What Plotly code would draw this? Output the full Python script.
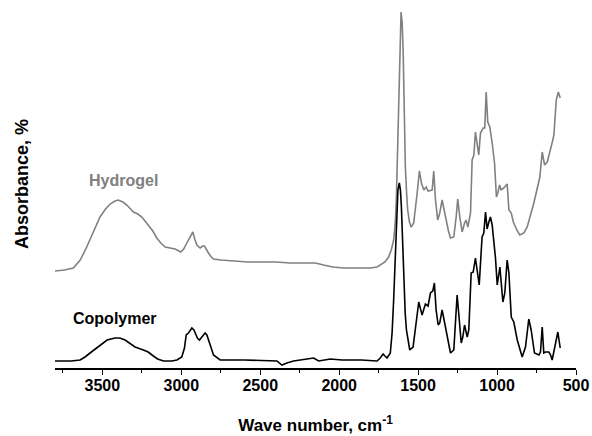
import plotly.graph_objects as go

# Hydrogel spectrum (wave number, cm^-1 ; absorbance, arbitrary units)
hydrogel_wn = [3800, 3740, 3684, 3640, 3599, 3560, 3515, 3480, 3451, 3420, 3399, 3370, 3345, 3303,
               3275, 3250, 3208, 3180, 3155, 3130, 3102, 3070, 3039, 3003, 2985, 2965, 2945, 2927,
               2915, 2901, 2881, 2865, 2853, 2840, 2828, 2810, 2796, 2750, 2669, 2580, 2479, 2400,
               2310, 2230, 2151, 2099, 2040, 1972, 1900, 1803, 1760, 1739, 1710, 1687, 1670, 1655,
               1645, 1638, 1630, 1623, 1615, 1608, 1601, 1595, 1588, 1581, 1573, 1566, 1555, 1544,
               1528, 1515, 1506, 1492, 1485, 1479, 1464, 1449, 1437, 1411, 1401, 1390, 1376, 1363,
               1348, 1333, 1321, 1308, 1295, 1274, 1259, 1249, 1236, 1221, 1206, 1196, 1185, 1168,
               1158, 1147, 1137, 1126, 1116, 1105, 1088, 1078, 1069, 1059, 1046, 1031, 1016, 1004,
               995, 984, 974, 957, 936, 925, 910, 897, 875, 856, 830, 809, 767, 729, 714, 699, 682,
               650, 640, 625, 612, 600]
hydrogel_abs = [97, 98, 100, 108, 121, 135, 151, 159, 164, 167, 168, 166, 163, 156,
                154, 151, 143, 137, 130, 125, 121, 120, 119, 116, 119, 125, 131, 136,
                129, 123, 120, 122, 122, 118, 115, 111, 109, 108, 107, 106, 106, 106,
                105, 105, 105, 103, 101, 100, 100, 100, 101, 103, 106, 111, 118, 128,
                145, 168, 215, 268, 325, 356, 345, 318, 260, 201, 175, 158, 146, 141,
                145, 160, 175, 197, 190, 185, 178, 181, 177, 178, 197, 168, 148, 155,
                168, 155, 148, 137, 130, 131, 151, 169, 151, 136, 145, 148, 141, 155,
                208, 213, 236, 225, 213, 235, 240, 240, 276, 246, 241, 225, 205, 171,
                175, 183, 178, 180, 184, 158, 155, 146, 138, 133, 135, 141, 165, 191, 216, 203, 206,
                226, 233, 268, 276, 270]

# Copolymer spectrum
copolymer_wn = [3800, 3700, 3641, 3610, 3578, 3545, 3515, 3470, 3420, 3390, 3356, 3320, 3293, 3240,
                3210, 3177, 3150, 3113, 3060, 3028, 2997, 2980, 2969, 2955, 2933, 2920, 2912, 2898,
                2885, 2865, 2849, 2838, 2828, 2810, 2796, 2754, 2600, 2394, 2363, 2331, 2289, 2162,
                2130, 2056, 1982, 1860, 1760, 1740, 1722, 1710, 1697, 1676, 1665, 1655, 1645, 1638,
                1628, 1619, 1612, 1606, 1598, 1591, 1582, 1574, 1563, 1553, 1532, 1511, 1496, 1475,
                1454, 1437, 1422, 1407, 1397, 1386, 1373, 1363, 1348, 1338, 1323, 1308, 1295, 1274,
                1263, 1253, 1243, 1227, 1217, 1206, 1189, 1179, 1164, 1151, 1137, 1126, 1113, 1095,
                1084, 1073, 1063, 1052, 1042, 1031, 1021, 1010, 999, 989, 982, 974, 963, 951, 936,
                925, 910, 894, 872, 841, 820, 799, 784, 763, 735, 725, 714, 704, 693, 672, 661, 651,
                630, 615, 600]
copolymer_abs = [7, 7, 8, 11, 15, 19, 23, 28, 30, 30, 28, 24, 21, 18,
                 16, 12, 9, 7, 7, 8, 11, 20, 33, 35, 40, 38, 35, 30,
                 28, 32, 35, 33, 28, 19, 13, 8, 8, 7, 3, 5, 7, 10,
                 7, 9, 8, 8, 7, 10, 14, 12, 10, 15, 35, 68, 110, 151,
                 178, 185, 178, 161, 125, 85, 55, 38, 25, 18, 21, 45, 66, 53,
                 64, 62, 75, 77, 85, 58, 43, 45, 58, 50, 38, 24, 15, 18,
                 51, 73, 55, 25, 31, 43, 31, 38, 95, 96, 110, 98, 83, 131,
                 135, 156, 139, 146, 151, 143, 128, 110, 83, 93, 101, 86, 66, 75, 108,
                 95, 51, 46, 28, 11, 21, 49, 38, 15, 13, 16, 41, 15, 16, 16, 13, 8,
                 25, 36, 20]

x_ticks = [3500, 3000, 2500, 2000, 1500, 1000, 500]

FONT = "Arial, 'Liberation Sans', sans-serif"

fig = go.Figure()
fig.add_trace(go.Scatter(x=hydrogel_wn, y=hydrogel_abs, mode="lines",
                         line=dict(color="#808080", width=1.6), name="Hydrogel"))
fig.add_trace(go.Scatter(x=copolymer_wn, y=copolymer_abs, mode="lines",
                         line=dict(color="#000000", width=1.6), name="Copolymer"))

fig.add_annotation(x=3369, y=188, text="<b>Hydrogel</b>", showarrow=False,
                   font=dict(family=FONT, size=16, color="#808080"))
fig.add_annotation(x=3420, y=50, text="<b>Copolymer</b>", showarrow=False,
                   font=dict(family=FONT, size=16, color="#000000"))

fig.update_layout(
    width=592, height=436,
    margin=dict(l=55, r=16, t=0, b=68),
    paper_bgcolor="white", plot_bgcolor="white",
    showlegend=False,
    font=dict(family=FONT, color="black"),
    xaxis=dict(
        range=[3800, 500], tickvals=x_ticks,
        showgrid=False, zeroline=False,
        showline=True, linecolor="black", linewidth=1.5,
        ticks="outside", ticklen=5, tickwidth=1.2, tickcolor="black",
        minor=dict(dtick=250, tick0=500, ticks="outside", ticklen=3, tickwidth=1.2, tickcolor="black", showgrid=False),
        tickfont=dict(family=FONT, size=16, weight="bold"),
        ticklabelstandoff=-3,
        title=dict(text="<b>Wave number, cm<sup>-1</sup></b>", font=dict(family=FONT, size=17), standoff=26),
    ),
    yaxis=dict(
        range=[0, 368], showgrid=False, zeroline=False, showline=False,
        showticklabels=False, ticks="",
        title=dict(text="<b>Absorbance, %</b>", font=dict(family=FONT, size=18), standoff=20),
    ),
)

fig.write_html("out.html", config={"displayModeBar": False},
               post_script="document.body.style.margin='0px';")
